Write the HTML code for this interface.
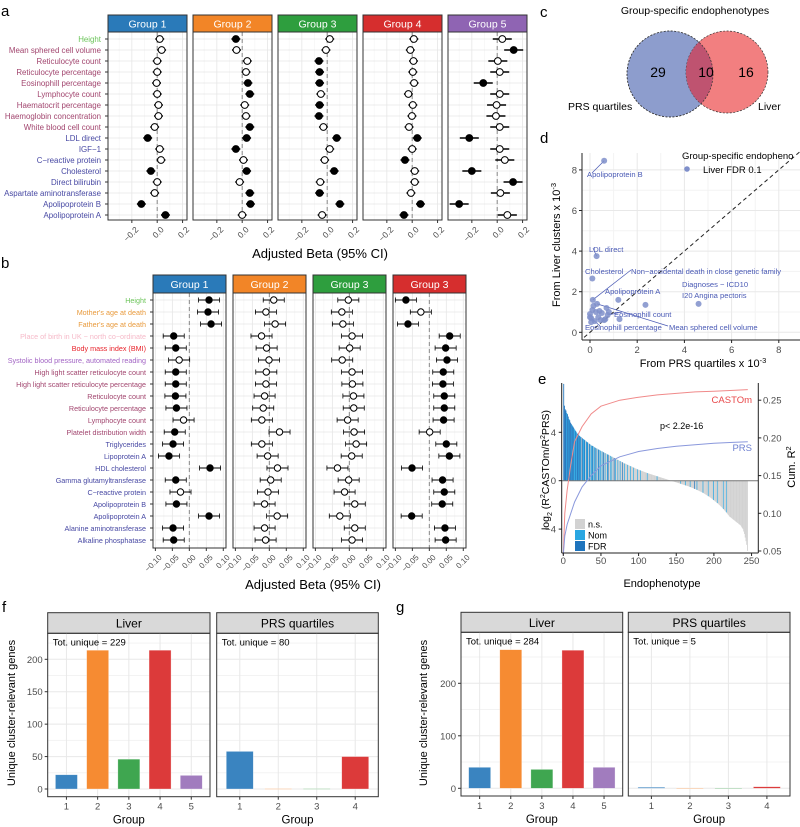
<!DOCTYPE html>
<html><head><meta charset="utf-8"><style>
html,body{margin:0;padding:0;background:#fff}
svg{display:block;font-family:"Liberation Sans",Arial,sans-serif}
</style></head><body>
<svg id="chart" width="800" height="827" viewBox="0 0 800 827" xmlns="http://www.w3.org/2000/svg">
<defs><clipPath id="redClip"><circle cx="727" cy="72" r="41"/></clipPath></defs>
<text x="1" y="16" font-size="15">a</text>
<text x="1" y="268" font-size="15">b</text>
<text x="540" y="17" font-size="15">c</text>
<text x="540" y="143" font-size="15">d</text>
<text x="538" y="384" font-size="15">e</text>
<text x="2" y="612" font-size="15">f</text>
<text x="396" y="612" font-size="15">g</text>
</svg>
<script>
// ---------- DATA ----------
const aRows=["Height","Mean sphered cell volume","Reticulocyte count","Reticulocyte percentage","Eosinophill percentage","Lymphocyte count","Haematocrit percentage","Haemoglobin concentration","White blood cell count","LDL direct","IGF−1","C−reactive protein","Cholesterol","Direct bilirubin","Aspartate aminotransferase","Apolipoprotein B","Apolipoprotein A"];
const aRowCat=["h","b","b","b","b","b","b","b","b","c","c","c","c","c","c","c","c"];
const aGroups=["Group 1","Group 2","Group 3","Group 4","Group 5"];
const aEst1=[0.02,0.035,0,0,-0.005,0,0.01,0.01,-0.02,-0.075,0.02,0.03,-0.05,0,-0.02,-0.125,0.065];
const aSig1=[0,0,0,0,0,0,0,0,0,1,0,0,1,0,0,1,1];
const aEst2=[-0.05,-0.045,0.04,0.03,0.045,0.06,0.02,0.03,0.06,0.035,-0.05,0.01,0.035,-0.02,0.06,0.065,0];
const aSig2=[1,0,0,0,1,1,0,0,1,1,1,0,1,0,1,1,0];
const aEst3=[0.02,-0.01,-0.065,-0.06,-0.06,-0.05,-0.06,-0.065,-0.03,0.075,0.02,-0.02,0.055,-0.055,-0.06,0.1,-0.04];
const aSig3=[0,0,1,1,1,0,1,1,0,1,0,0,1,0,1,1,0];
const aEst4=[0.013,-0.015,0.01,0.005,0.015,-0.03,0.005,-0.002,-0.025,0.04,0,-0.057,0.02,0.02,-0.01,0.065,-0.065];
const aSig4=[0,0,0,0,0,0,0,0,0,1,0,1,0,0,0,1,1];
const aEst5=[0.04,0.13,0.005,0.02,-0.11,0.02,-0.005,-0.01,0.02,-0.22,0.02,0.06,-0.2,0.125,0.025,-0.3,0.08];
const aSig5=[0,1,0,0,1,0,0,0,0,1,0,0,1,1,0,1,0];
const aCI=[0.035,0.035,0.035,0.035,0.075];
const aTicks=[-0.2,0,0.2];
const aTickLabels=["−0.2","0.0","0.2"];

const bRows=["Height","Mother's age at death","Father's age at death","Place of birth in UK − north co−ordinate","Body mass index (BMI)","Systolic blood pressure, automated reading","High light scatter reticulocyte count","High light scatter reticulocyte percentage","Reticulocyte count","Reticulocyte percentage","Lymphocyte count","Platelet distribution width","Triglycerides","Lipoprotein A","HDL cholesterol","Gamma glutamyltransferase","C−reactive protein","Apolipoprotein B","Apolipoprotein A","Alanine aminotransferase","Alkaline phosphatase"];
const bRowCat=["h","o","o","p","r","v","b","b","b","b","b","b","c","c","c","c","c","c","c","c","c"];
const bGroups=["Group 1","Group 2","Group 3","Group 3"];
const bEst1=[0.058,0.055,0.064,-0.046,-0.04,-0.03,-0.04,-0.04,-0.041,-0.038,-0.017,-0.043,-0.048,-0.06,0.061,-0.04,-0.026,-0.038,0.058,-0.048,-0.046];
const bSig1=[1,1,1,1,1,0,1,1,1,1,0,1,1,1,1,1,0,1,1,1,1];
const bEst2=[0.013,-0.01,0.017,-0.023,-0.008,-0.001,-0.009,-0.01,-0.014,-0.018,-0.022,0.03,-0.022,-0.005,0.024,0.004,-0.004,-0.014,0.023,-0.014,-0.011];
const bSig2=[0,0,0,0,0,0,0,0,0,0,0,0,0,0,0,0,0,0,0,0,0];
const bEst3=[-0.003,-0.022,-0.019,0.008,0.001,-0.021,0.008,0.009,0.012,0.013,-0.005,0.014,0.02,0.007,-0.035,-0.002,-0.014,0.016,-0.028,0.016,0.008];
const bSig3=[0,0,0,0,0,0,0,0,0,0,0,0,0,0,0,0,0,0,0,0,0];
const bEst4=[-0.069,-0.025,-0.063,0.06,0.048,0.052,0.041,0.04,0.044,0.044,0.042,0.001,0.05,0.059,-0.051,0.039,0.044,0.038,-0.052,0.046,0.048];
const bSig4=[1,0,1,1,1,1,1,1,1,1,1,0,1,1,1,1,1,1,1,1,1];
const bCI=[0.031,0.031,0.031,0.031];
const bTicks=[-0.1,-0.05,0,0.05,0.1];
const bTickLabels=["−0.10","−0.05","0.00","0.05","0.10"];

const vennCounts=[29,10,16];
const vennSets=["PRS quartiles","Liver"];

const dX=[0.6,0.28,0.1,0.12,1.2,4.6,2.35,1.25,0,0.05,0.1,0.15,0.3,0.4,0.5,0.7,0.75,0.6,0.2,0.05,0.35,0.8,0.25,0.65,0.45,0];
const dY=[8.45,3.75,2.65,1.6,1.6,1.4,1.35,0.65,0.9,0.7,1.1,1.3,1.4,1.05,0.95,1.2,0.85,0.6,0.55,0.5,0.75,1.0,1.0,0.65,0.6,0.75];
const dTicks=[0,2,4,6,8];

const eVals=[8.0,6.2,5.9,5.8,5.6,5.5,5.3,5.1,5.0,4.8,4.7,4.6,4.5,4.4,4.3,4.2,4.1,4.0,3.9,3.85,3.8,3.7,3.65,3.6,3.55,3.5,3.45,3.4,3.35,3.3,3.25,3.2,3.15,3.1,3.05,3.0,2.95,2.9,2.88,2.85,2.8,2.76,2.72,2.7,2.66,2.62,2.58,2.55,2.52,2.48,2.45,2.42,2.38,2.35,2.32,2.28,2.25,2.22,2.18,2.15,2.12,2.08,2.05,2.02,1.98,1.95,1.92,1.88,1.85,1.82,1.78,1.75,1.72,1.68,1.65,1.62,1.58,1.55,1.52,1.48,1.45,1.42,1.4,1.37,1.34,1.31,1.28,1.25,1.22,1.2,1.17,1.14,1.11,1.08,1.05,1.02,1.0,0.97,0.94,0.92,0.9,0.87,0.85,0.82,0.8,0.78,0.75,0.73,0.7,0.68,0.66,0.63,0.61,0.59,0.57,0.55,0.53,0.51,0.49,0.47,0.45,0.43,0.41,0.39,0.37,0.35,0.33,0.31,0.29,0.27,0.25,0.23,0.21,0.19,0.17,0.15,0.13,0.11,0.09,0.07,0.05,0.03,0.01,-0.01,-0.03,-0.05,-0.07,-0.09,-0.11,-0.13,-0.15,-0.17,-0.19,-0.21,-0.23,-0.25,-0.27,-0.29,-0.31,-0.33,-0.35,-0.37,-0.39,-0.41,-0.43,-0.45,-0.47,-0.5,-0.52,-0.55,-0.57,-0.6,-0.62,-0.65,-0.68,-0.7,-0.73,-0.76,-0.79,-0.82,-0.85,-0.88,-0.91,-0.94,-0.97,-1.0,-1.04,-1.08,-1.12,-1.16,-1.2,-1.24,-1.28,-1.32,-1.36,-1.4,-1.45,-1.5,-1.55,-1.6,-1.65,-1.7,-1.75,-1.8,-1.85,-1.9,-1.96,-2.02,-2.08,-2.14,-2.2,-2.27,-2.34,-2.41,-2.48,-2.55,-2.62,-2.7,-2.78,-2.86,-2.95,-3.0,-3.05,-3.1,-3.15,-3.2,-3.25,-3.3,-3.35,-3.4,-3.45,-3.5,-3.55,-3.6,-3.65,-3.7,-3.8,-3.9,-4.0,-4.2,-4.4,-4.7,-5.0,-5.3,-5.8];
const eCat=("FFFFNFFNFF"+"FNFFNNFNFF"+"NFNFnFNNFn"+"NFNnFNnNFN"+"nNFnNnFNnN"+"nNnFnNnnNF"+"nnNnNnnFnN"+"nnNnnNnnFn"+"nNnnnNnnnN"+"nnnNnnnnNn"+"nnNnnnnnnn"+"nNnnnnnnnn"+"nnnnNnnnnn"+"nnnnnnnnnn"+"nnnNnnnnnn"+"nnnnnNnnnn"+"nnNnnnnnNn"+"nnnnFnnNnn"+"nnnnnNnnnn"+"nnNnnnnnnN"+"nnnnNnnnnn"+"nnNnnnNnnn"+"nnnnnnnnnn"+"nnnnnnnnnn"+"nnnnn").split("");
const eCumX=[0,2,5,10,15,25,37,50,75,100,125,150,175,200,225,245];
const eCastom=[0.045,0.10,0.13,0.165,0.195,0.215,0.232,0.242,0.25,0.254,0.257,0.259,0.261,0.262,0.263,0.264];
const ePrs=[0.045,0.07,0.085,0.10,0.115,0.135,0.15,0.163,0.175,0.182,0.186,0.189,0.191,0.193,0.194,0.195];
const eLeftTicks=[4,0,-4];
const eRightTicks=[0.05,0.10,0.15,0.20,0.25];
const eXTicks=[0,50,100,150,200,250];

const fLiver=[22,214,46,214,21];
const fPrs=[58,0.5,0.5,50];
const fTot=["Tot. unique = 229","Tot. unique = 80"];
const gLiver=[40,264,36,263,40];
const gPrs=[2,0.4,0.4,3];
const gTot=["Tot. unique = 284","Tot. unique = 5"];

// ---------- HELPERS ----------
const NS="http://www.w3.org/2000/svg";
const svg=document.getElementById('chart');
function mk(tag,name,attrs,parent,txt){
  const e=document.createElementNS(NS,tag);
  
  
  for(const k in attrs)e.setAttribute(k,attrs[k]);
  if(txt!==undefined)e.textContent=txt;
  (parent||svg).appendChild(e);return e;
}
const grpColors=["#2a7ab9","#f28527","#2e9e3e","#d62e2e","#8f64b3"];
const catColor={h:"#6cc45a",b:"#a2466f",c:"#4748a3",o:"#e89a3c",p:"#f6b9c8",r:"#e8232b",v:"#a264c4"};
const tickGray="#4d4d4d";

function forest(cfg){
  const g=mk('g',cfg.name,{},svg);
  const sx=v=>cfg.x0+(v-cfg.dom[0])/(cfg.dom[1]-cfg.dom[0])*cfg.w;
  mk('rect','strip-'+cfg.idx,{x:cfg.x0,y:cfg.sy0,width:cfg.w,height:cfg.sy1-cfg.sy0,fill:cfg.color,stroke:"#333","stroke-width":1},g);
  mk('text','strip-label',{x:cfg.x0+cfg.w/2,y:(cfg.sy0+cfg.sy1)/2+3.8,"font-size":cfg.sfs,fill:"#fff","text-anchor":"middle"},g,cfg.label);
  cfg.minor.forEach(v=>mk('line','minor-gridline',{x1:sx(v),x2:sx(v),y1:cfg.sy1,y2:cfg.by1,stroke:"#f3f3f3","stroke-width":0.6},g));
  cfg.ticks.forEach(v=>mk('line','major-gridline',{x1:sx(v),x2:sx(v),y1:cfg.sy1,y2:cfg.by1,stroke:"#e6e6e6","stroke-width":0.8},g));
  cfg.est.forEach((v,i)=>mk('line','row-gridline',{x1:cfg.x0,x2:cfg.x0+cfg.w,y1:cfg.ry0+i*cfg.rs,y2:cfg.ry0+i*cfg.rs,stroke:"#e6e6e6","stroke-width":0.8},g));
  mk('line','zero-line',{x1:sx(0),x2:sx(0),y1:cfg.sy1,y2:cfg.by1,stroke:"#888","stroke-width":1,"stroke-dasharray":"4,3"},g);
  cfg.est.forEach((v,i)=>{
    const y=cfg.ry0+i*cfg.rs;
    mk('line','ci-bar',{x1:sx(v-cfg.ci),x2:sx(v+cfg.ci),y1:y,y2:y,stroke:"#000","stroke-width":cfg.thick},g);
    if(cfg.caps){
      [v-cfg.ci,v+cfg.ci].forEach(c=>{mk('line','ci-cap',{x1:sx(c),x2:sx(c),y1:y-2.5,y2:y+2.5,stroke:"#000","stroke-width":0.8},g);});
    }
    const p=document.createElementNS(NS,'circle');
    
    
    p.setAttribute('cx',sx(v));p.setAttribute('cy',y);p.setAttribute('r',cfg.r);
    p.setAttribute('fill',cfg.sig[i]?"#000":"#fff");p.setAttribute('stroke',"#000");p.setAttribute('stroke-width',1);
    g.appendChild(p);
  });
  mk('rect','panel-border',{x:cfg.x0,y:cfg.sy1,width:cfg.w,height:cfg.by1-cfg.sy1,fill:"none",stroke:"#333","stroke-width":1},g);
  cfg.ticks.forEach((v,i)=>{
    mk('line','x-tick',{x1:sx(v),x2:sx(v),y1:cfg.by1,y2:cfg.by1+3,stroke:"#333"},g);
    mk('text','x-tick-label',{x:sx(v)+3,y:cfg.by1+6,"font-size":cfg.tfs,fill:tickGray,"text-anchor":"end",transform:`rotate(-45 ${sx(v)+3} ${cfg.by1+6})`,dy:"0.7em"},g,cfg.tickLabels[i]);
  });
}

// ---------- PANEL A ----------
const aEsts=[aEst1,aEst2,aEst3,aEst4,aEst5],aSigs=[aSig1,aSig2,aSig3,aSig4,aSig5];
const aX=[108,193,278,363,448];
aGroups.forEach((lab,k)=>forest({name:'forest-a-'+(k+1),idx:k,x0:aX[k],w:79,dom:[-0.388,0.235],sy0:15,sy1:32,by1:220,ry0:39,rs:11,
  color:grpColors[k],label:lab,est:aEsts[k],sig:aSigs[k],ci:aCI[k],ticks:aTicks,tickLabels:aTickLabels,minor:[-0.3,-0.1,0.1],caps:false,thick:1.6,r:3.4,sfs:10.5,tfs:8.5}));
aRows.forEach((t,i)=>{
  const y=39+i*11;
  mk('text','row-label-a',{x:101,y:y+3,"font-size":7.9,fill:catColor[aRowCat[i]],"text-anchor":"end"},svg,t);
  mk('line','y-tick',{x1:105,x2:108,y1:y,y2:y,stroke:"#333"},svg);
});
mk('text','x-axis-title-a',{x:320,y:258,"font-size":13,"text-anchor":"middle"},svg,"Adjusted Beta (95% CI)");

// ---------- PANEL B ----------
const bEsts=[bEst1,bEst2,bEst3,bEst4],bSigs=[bSig1,bSig2,bSig3,bSig4];
const bX=[153,233,313,393];
const bCol=[grpColors[0],grpColors[1],grpColors[2],grpColors[3]];
bGroups.forEach((lab,k)=>forest({name:'forest-b-'+(k+1),idx:k,x0:bX[k],w:73,dom:[-0.107,0.108],sy0:275,sy1:293,by1:548,ry0:300,rs:12,
  color:bCol[k],label:lab,est:bEsts[k],sig:bSigs[k],ci:bCI[k],ticks:bTicks,tickLabels:bTickLabels,minor:[-0.075,-0.025,0.025,0.075],caps:true,thick:0.9,r:3.2,sfs:10.5,tfs:8}));
bRows.forEach((t,i)=>{
  const y=300+i*12;
  mk('text','row-label-b',{x:146,y:y+3,"font-size":7.2,fill:catColor[bRowCat[i]],"text-anchor":"end"},svg,t);
  mk('line','y-tick',{x1:150,x2:153,y1:y,y2:y,stroke:"#333"},svg);
});
mk('text','x-axis-title-b',{x:313,y:589,"font-size":13,"text-anchor":"middle"},svg,"Adjusted Beta (95% CI)");

// ---------- PANEL C (Venn) ----------
mk('text','venn-title',{x:695,y:14,"font-size":10.5,"text-anchor":"middle"},svg,"Group-specific endophenotypes");
mk('circle','venn-prs-circle',{cx:670,cy:74,r:43,fill:"#8d9dcd",stroke:"#333","stroke-width":0.7,"stroke-dasharray":"2,1.5"},svg);
mk('circle','venn-liver-circle',{cx:727,cy:72,r:41,fill:"#f27f80",stroke:"#333","stroke-width":0.7,"stroke-dasharray":"2,1.5"},svg);
mk('circle','venn-overlap',{cx:670,cy:74,r:43,fill:"#bf5370",stroke:"none","clip-path":"url(#redClip)"},svg);
mk('circle','venn-prs-outline',{cx:670,cy:74,r:43,fill:"none",stroke:"#333","stroke-width":0.7,"stroke-dasharray":"2,1.5"},svg);
mk('text','venn-count-prs',{x:658,y:77,"font-size":14,"text-anchor":"middle"},svg,String(vennCounts[0]));
mk('text','venn-count-both',{x:706,y:77,"font-size":14,"text-anchor":"middle"},svg,String(vennCounts[1]));
mk('text','venn-count-liver',{x:746,y:77,"font-size":14,"text-anchor":"middle"},svg,String(vennCounts[2]));
mk('text','venn-label-prs',{x:568,y:110,"font-size":10.5},svg,vennSets[0]);
mk('text','venn-label-liver',{x:758,y:110,"font-size":10.5},svg,vennSets[1]);

// ---------- PANEL D (scatter) ----------
const dx=v=>590+v*23.6, dy=v=>332.3-v*20.3;
const dG=mk('g','scatter-d',{},svg);
[1,3,5,7].forEach(v=>{mk('line','minor-gridline',{x1:dx(v),x2:dx(v),y1:153,y2:340,stroke:"#f3f3f3"},dG);mk('line','minor-gridline',{x1:582,x2:800,y1:dy(v),y2:dy(v),stroke:"#f3f3f3"},dG);});
dTicks.forEach(v=>{mk('line','major-gridline',{x1:dx(v),x2:dx(v),y1:153,y2:340,stroke:"#e8e8e8"},dG);mk('line','major-gridline',{x1:582,x2:800,y1:dy(v),y2:dy(v),stroke:"#e8e8e8"},dG);});
mk('line','identity-line',{x1:dx(-0.25),y1:dy(-0.25),x2:dx(8.9),y2:dy(8.9),stroke:"#222","stroke-width":1,"stroke-dasharray":"4,3"},dG);
const lblCol="#4a5ab5";
[[3,631,270],[0,592,173],[1,593,248],[16,622,312],[12,668,326],[9,600,326]].forEach(c=>mk('line','label-connector',{x1:dx(dX[c[0]]),y1:dy(dY[c[0]]),x2:c[1],y2:c[2],stroke:lblCol,"stroke-width":0.7},dG));
dX.forEach((v,i)=>{
  const p=document.createElementNS(NS,'circle');
  
  
  p.setAttribute('cx',dx(v));p.setAttribute('cy',dy(dY[i]));p.setAttribute('r',3);
  p.setAttribute('fill',"#7f8fca");p.setAttribute('fill-opacity',0.85);
  dG.appendChild(p);
});
[["Apolipoprotein B",587,177],["LDL direct",589,252],["Cholesterol",585,274],["Non−accidental death in close genetic family",631,274],["Apolipoprotein A",605,294],["Diagnoses − ICD10",682,287],["I20 Angina pectoris",682,298],["Eosinophill count",614,317],["Eosinophill percentage",585,330],["Mean sphered cell volume",669,330]].forEach(l=>mk('text','point-label',{x:l[1],y:l[2],"font-size":7.6,fill:lblCol},dG,l[0]));
mk('line','x-axis-line',{x1:582,x2:800,y1:340,y2:340,stroke:"#222"},dG);
mk('line','y-axis-line',{x1:582,x2:582,y1:153,y2:340,stroke:"#222"},dG);
dTicks.forEach(v=>{
  mk('line','x-tick',{x1:dx(v),x2:dx(v),y1:340,y2:343,stroke:"#222"},dG);
  mk('text','x-tick-label',{x:dx(v),y:353,"font-size":9.5,fill:tickGray,"text-anchor":"middle"},dG,String(v));
  mk('line','y-tick',{x1:579,x2:582,y1:dy(v),y2:dy(v),stroke:"#222"},dG);
  mk('text','y-tick-label',{x:577,y:dy(v)+3.5,"font-size":9.5,fill:tickGray,"text-anchor":"end"},dG,String(v));
});
const dxt=mk('text','x-axis-title-d',{x:703,y:367,"font-size":11,"text-anchor":"middle"},dG);
dxt.innerHTML='From PRS quartiles x 10<tspan dy="-4" font-size="7.5">-3</tspan>';
const dyt=mk('text','y-axis-title-d',{x:0,y:0,"font-size":11,"text-anchor":"middle",transform:"translate(560 245) rotate(-90)"},dG);
dyt.innerHTML='From Liver clusters x 10<tspan dy="-4" font-size="7.5">-3</tspan>';
mk('text','legend-title-d',{x:682,y:159,"font-size":9.5},dG,"Group-specific endopheno");
mk('circle','legend-dot',{cx:687,cy:169,r:2.8,fill:"#7f8fca"},dG);
mk('text','legend-label',{x:703,y:173,"font-size":9.5},dG,"Liver FDR 0.1");

// ---------- PANEL E ----------
const ex=v=>563.3+v*0.753, ey=v=>480.7-v*12.1, ery=v=>551-(v-0.05)/0.05*37.7;
const eG=mk('g','ratio-chart-e',{},svg);
const eColors={n:"#d2d2d2",N:"#2aa7e2",F:"#1f74bd"};
eVals.forEach((v,i)=>{
  const b=document.createElementNS(NS,'rect');
  
  
  b.setAttribute('x',ex(i));b.setAttribute('width',0.85);
  b.setAttribute('y',Math.min(ey(v),ey(0)));b.setAttribute('height',Math.abs(ey(v)-ey(0)));
  b.setAttribute('fill',eColors[eCat[i]]);
  eG.appendChild(b);
});
mk('line','zero-line',{x1:561.7,x2:758.3,y1:ey(0),y2:ey(0),stroke:"#777","stroke-width":1},eG);
const cpath=a=>a.map((v,i)=>(i?'L':'M')+ex(eCumX[i]).toFixed(1)+','+ery(v).toFixed(1)).join('');
mk('path','castom-cumulative-line',{d:cpath(eCastom),fill:"none",stroke:"#f08a8a","stroke-width":1},eG);
mk('path','prs-cumulative-line',{d:cpath(ePrs),fill:"none",stroke:"#8a98dc","stroke-width":1},eG);
mk('line','left-axis',{x1:561.7,x2:561.7,y1:383,y2:553,stroke:"#222"},eG);
mk('line','right-axis',{x1:758.3,x2:758.3,y1:383,y2:553,stroke:"#222"},eG);
mk('line','bottom-axis',{x1:561.7,x2:758.3,y1:553,y2:553,stroke:"#222"},eG);
eLeftTicks.forEach(v=>{mk('line','y-tick',{x1:558.7,x2:561.7,y1:ey(v),y2:ey(v),stroke:"#222"},eG);mk('text','y-tick-label',{x:556,y:ey(v)+3.5,"font-size":9.5,fill:tickGray,"text-anchor":"end"},eG,v<0?"−"+Math.abs(v):String(v));});
eRightTicks.forEach(v=>{mk('line','y2-tick',{x1:758.3,x2:761.3,y1:ery(v),y2:ery(v),stroke:"#222"},eG);mk('text','y2-tick-label',{x:763,y:ery(v)+3.5,"font-size":9.5,fill:tickGray},eG,v.toFixed(2));});
eXTicks.forEach(v=>{mk('line','x-tick',{x1:ex(v),x2:ex(v),y1:553,y2:556,stroke:"#222"},eG);mk('text','x-tick-label',{x:ex(v),y:564,"font-size":9.5,fill:tickGray,"text-anchor":"middle"},eG,String(v));});
mk('text','x-axis-title-e',{x:662,y:587,"font-size":11,"text-anchor":"middle"},eG,"Endophenotype");
const eyt=mk('text','y-axis-title-e',{x:0,y:0,"font-size":10.5,"text-anchor":"middle",transform:"translate(549 470) rotate(-90)"},eG);
eyt.innerHTML='log<tspan dy="3" font-size="7">2</tspan><tspan dy="-3"> (R</tspan><tspan dy="-4" font-size="7">2</tspan><tspan dy="4">CASTOm/R</tspan><tspan dy="-4" font-size="7">2</tspan><tspan dy="4">PRS)</tspan>';
const eyt2=mk('text','y2-axis-title-e',{x:0,y:0,"font-size":11,"text-anchor":"middle",transform:"translate(795 467) rotate(-90)"},eG);
eyt2.innerHTML='Cum. R<tspan dy="-4" font-size="7.5">2</tspan>';
mk('text','p-value',{x:660,y:429,"font-size":9},eG,"p< 2.2e-16");
mk('text','castom-label',{x:752,y:403,"font-size":9.5,fill:"#e8484a","text-anchor":"end"},eG,"CASTOm");
mk('text','prs-label',{x:752,y:451,"font-size":9.5,fill:"#6d7fd0","text-anchor":"end"},eG,"PRS");
[["n.s.","n",519],["Nom","N",530],["FDR","F",541]].forEach(l=>{
  mk('rect','legend-swatch',{x:575,y:l[2],width:10,height:10,fill:eColors[l[1]]},eG);
  mk('text','legend-label',{x:588,y:l[2]+8.5,"font-size":9},eG,l[0]);
});

// ---------- PANELS F & G ----------
const barCols=["#3a84c0","#f68b32","#3fa650","#dc3a3a","#a17cbe"];
function barPanel(name,x0,x1,sTop,sBot,bot,yz,ppu,vals,tot,title,ticks,minor,bw,showY){
  const g=mk('g',name,{},svg);
  const n=vals.length, step=(x1-x0)/(n+0.2);
  const cx=i=>x0+step*(i+0.6);
  const sy=v=>yz-v*ppu;
  mk('rect','strip',{x:x0,y:sTop,width:x1-x0,height:sBot-sTop,fill:"#d9d9d9",stroke:"#333"},g);
  mk('text','strip-label',{x:(x0+x1)/2,y:(sTop+sBot)/2+4.5,"font-size":12,"text-anchor":"middle"},g,title);
  minor.forEach(v=>mk('line','minor-gridline',{x1:x0,x2:x1,y1:sy(v),y2:sy(v),stroke:"#f3f3f3"},g));
  ticks.forEach(v=>mk('line','major-gridline',{x1:x0,x2:x1,y1:sy(v),y2:sy(v),stroke:"#e8e8e8"},g));
  vals.forEach((v,i)=>mk('line','x-gridline',{x1:cx(i),x2:cx(i),y1:sBot,y2:bot,stroke:"#e8e8e8"},g));
  vals.forEach((v,i)=>{
    const b=document.createElementNS(NS,'rect');
    
    
    b.setAttribute('x',cx(i)-bw/2);b.setAttribute('width',bw);
    b.setAttribute('y',sy(v));b.setAttribute('height',Math.max(sy(0)-sy(v),0.6));
    b.setAttribute('fill',barCols[i]);b.setAttribute('stroke',"#fff");b.setAttribute('stroke-opacity',0.5);b.setAttribute('stroke-width',0.6);
    g.appendChild(b);
  });
  mk('rect','panel-border',{x:x0,y:sBot,width:x1-x0,height:bot-sBot,fill:"none",stroke:"#333"},g);
  mk('text','total-unique-label',{x:x0+5,y:sBot+12,"font-size":9.5},g,tot);
  vals.forEach((v,i)=>{mk('line','x-tick',{x1:cx(i),x2:cx(i),y1:bot,y2:bot+3,stroke:"#333"},g);mk('text','x-tick-label',{x:cx(i),y:bot+13,"font-size":9.5,fill:tickGray,"text-anchor":"middle"},g,String(i+1));});
  mk('text','x-axis-title',{x:(x0+x1)/2,y:bot+27,"font-size":11.5,"text-anchor":"middle"},g,"Group");
  if(showY){ticks.forEach(v=>{mk('line','y-tick',{x1:x0-3,x2:x0,y1:sy(v),y2:sy(v),stroke:"#333"},g);mk('text','y-tick-label',{x:x0-5,y:sy(v)+3.5,"font-size":9.5,fill:tickGray,"text-anchor":"end"},g,String(v));});}
}
barPanel('bar-f-liver',47.7,210,612.7,633.3,796.7,789,0.6485,fLiver,fTot[0],"Liver",[0,50,100,150,200],[25,75,125,175,225],22,true);
barPanel('bar-f-prs',216.7,378.3,612.7,633.3,796.7,789,0.6485,fPrs,fTot[1],"PRS quartiles",[0,50,100,150,200],[25,75,125,175,225],27,false);
barPanel('bar-g-liver',461,622.7,612.3,632.3,796,788.3,0.525,gLiver,gTot[0],"Liver",[0,100,200],[50,150,250],22,true);
barPanel('bar-g-prs',628.3,790,612.3,632.3,796,788.3,0.525,gPrs,gTot[1],"PRS quartiles",[0,100,200],[50,150,250],27,false);
mk('text','y-axis-title-f',{x:0,y:0,"font-size":11,"text-anchor":"middle",transform:"translate(15 713) rotate(-90)"},svg,"Unique cluster-relevant genes");
mk('text','y-axis-title-g',{x:0,y:0,"font-size":11,"text-anchor":"middle",transform:"translate(427 713) rotate(-90)"},svg,"Unique cluster-relevant genes");
</script>
</body></html>
